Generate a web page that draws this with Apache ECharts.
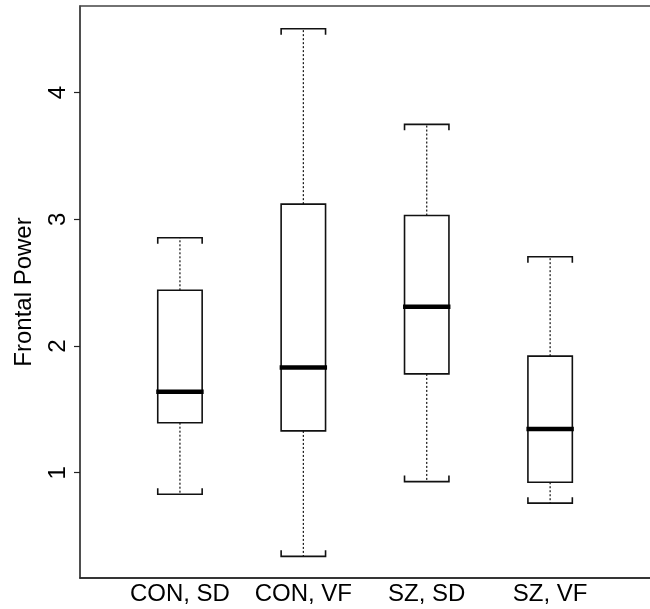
<!DOCTYPE html>
<html>
<head>
<meta charset="utf-8">
<script src="https://cdn.jsdelivr.net/npm/echarts@6/dist/echarts.min.js"></script>
<style>
html,body{margin:0;padding:0;background:#fff;}
#chart{width:650px;height:609px;}
</style>
</head>
<body>
<div id="chart"></div>
<script>
const categories = ['CON, SD', 'CON, VF', 'SZ, SD', 'SZ, VF'];
const lowerWhisker = [0.83, 0.34, 0.93, 0.76];
const q1 = [1.395, 1.33, 1.78, 0.925];
const median = [1.64, 1.83, 2.31, 1.345];
const q3 = [2.44, 3.12, 3.03, 1.92];
const upperWhisker = [2.855, 4.505, 3.75, 2.705];
const yTicks = [1, 2, 3, 4];

const positions = categories.map((c, i) => i + 1);
const boxData = categories.map((c, i) => [positions[i], lowerWhisker[i], q1[i], median[i], q3[i], upperWhisker[i]]);

const FONT = "'Liberation Sans', Arial, Helvetica, sans-serif";
const INK = '#111';

const chart = echarts.init(document.getElementById('chart'), null, {renderer: 'canvas'});
chart.setOption({
  animation: false,
  backgroundColor: '#fff',
  grid: {
    left: 80, top: 6, right: -6, bottom: 31,
    outerBoundsMode: 'none',
    containLabel: false,
    show: true, borderColor: '#444', borderWidth: 1.5, backgroundColor: 'transparent'
  },
  xAxis: {
    type: 'value',
    min: 0.19, max: 4.858,
    splitLine: {show: false},
    axisLine: {show: true, lineStyle: {color: '#222', width: 1.5}},
    axisTick: {show: false},
    axisLabel: {
      customValues: positions,
      formatter: v => categories[Math.round(v) - 1] || '',
      color: '#000', fontSize: 24, fontFamily: FONT, margin: 4
    }
  },
  yAxis: {
    type: 'value',
    min: 0.169, max: 4.684,
    name: 'Frontal Power',
    nameLocation: 'middle',
    nameGap: 44,
    nameTextStyle: {color: '#000', fontSize: 24, fontFamily: FONT},
    splitLine: {show: false},
    axisLine: {show: true, lineStyle: {color: '#444', width: 1.5}},
    axisTick: {show: true, customValues: yTicks, length: 6, lineStyle: {color: '#222', width: 1.2}},
    axisLabel: {
      customValues: yTicks,
      rotate: 90,
      color: '#000', fontSize: 24, fontFamily: FONT, margin: 10
    }
  },
  series: [{
    type: 'custom',
    data: boxData,
    encode: {x: 0, y: [1, 2, 3, 4, 5]},
    renderItem: function (params, api) {
      const x = api.value(0);
      const pLo = api.coord([x, api.value(1)]);
      const pQ1 = api.coord([x, api.value(2)]);
      const pMed = api.coord([x, api.value(3)]);
      const pQ3 = api.coord([x, api.value(4)]);
      const pHi = api.coord([x, api.value(5)]);
      const hw = api.size([0.18, 0])[0];
      const cx = pQ1[0];
      const t = 6;
      const solid = {stroke: INK, lineWidth: 1.6, fill: null};
      const dashed = {stroke: INK, lineWidth: 1.2, lineDash: [2, 2], fill: null};
      return {
        type: 'group',
        children: [
          {type: 'line', shape: {x1: cx, y1: pQ3[1], x2: cx, y2: pHi[1]}, style: dashed},
          {type: 'line', shape: {x1: cx, y1: pQ1[1], x2: cx, y2: pLo[1]}, style: dashed},
          {type: 'polyline', shape: {points: [[cx - hw, pHi[1] + t], [cx - hw, pHi[1]], [cx + hw, pHi[1]], [cx + hw, pHi[1] + t]]}, style: solid},
          {type: 'polyline', shape: {points: [[cx - hw, pLo[1] - t], [cx - hw, pLo[1]], [cx + hw, pLo[1]], [cx + hw, pLo[1] - t]]}, style: solid},
          {type: 'rect', shape: {x: cx - hw, y: pQ3[1], width: 2 * hw, height: pQ1[1] - pQ3[1]}, style: {stroke: INK, lineWidth: 1.6, fill: '#fff'}},
          {type: 'line', shape: {x1: cx - hw - 1.5, y1: pMed[1], x2: cx + hw + 1.5, y2: pMed[1]}, style: {stroke: '#000', lineWidth: 4.5}}
        ]
      };
    }
  }]
});
</script>
</body>
</html>
